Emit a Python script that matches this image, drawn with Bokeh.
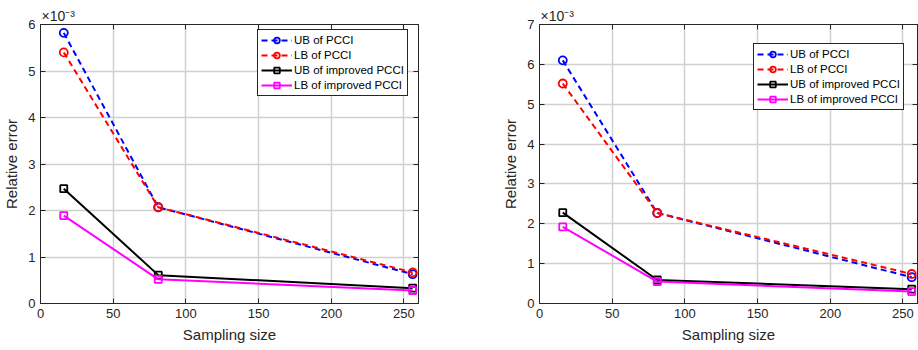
from bokeh.plotting import figure
from bokeh.layouts import row
from bokeh.models import LinearAxis, FixedTicker, Range1d, Title
from bokeh.embed import file_html
from bokeh.resources import INLINE

# ---- data (relative error in units of 1e-3) ----
sampling_size = [16, 81, 256]
x_ticks = [0, 50, 100, 150, 200, 250]

left_ub_pcci = [5.82, 2.07, 0.63]
left_lb_pcci = [5.40, 2.07, 0.67]
left_ub_imp = [2.47, 0.61, 0.33]
left_lb_imp = [1.89, 0.52, 0.28]
left_y_ticks = [0, 1, 2, 3, 4, 5, 6]

right_ub_pcci = [6.10, 2.27, 0.66]
right_lb_pcci = [5.52, 2.27, 0.74]
right_ub_imp = [2.28, 0.59, 0.36]
right_lb_imp = [1.92, 0.55, 0.30]
right_y_ticks = [0, 1, 2, 3, 4, 5, 6, 7]

labels = ["UB of PCCI", "LB of PCCI", "UB of improved PCCI", "LB of improved PCCI"]
x_label = "Sampling size"
y_label = "Relative error"
exponent_text = "×10⁻³"

FONT = "Liberation Sans"
TXT = "#262626"


def style_axis(ax, ticks, show_labels=True):
    ax.ticker = FixedTicker(ticks=ticks)
    ax.major_tick_in = 5
    ax.major_tick_out = 0
    ax.minor_tick_line_color = None
    ax.axis_line_color = TXT
    ax.major_tick_line_color = TXT
    ax.major_label_text_font = FONT
    if show_labels:
        ax.major_label_text_color = TXT
        ax.major_label_text_font_size = "13px"
        ax.major_label_standoff = 5
    else:
        ax.major_label_text_color = None
        ax.major_label_text_font_size = "1px"
        ax.major_label_standoff = 0
    ax.axis_label_text_font = FONT
    ax.axis_label_text_font_size = "15px"
    ax.axis_label_text_font_style = "normal"
    ax.axis_label_text_color = TXT
    ax.axis_label_standoff = 5


def make_panel(ub, lb, uimp, limp, y_ticks, bl, br, legend_loc):
    ymax = y_ticks[-1]
    p = figure(frame_width=378, frame_height=279,
               min_border_left=bl, min_border_right=br,
               min_border_top=24, min_border_bottom=47,
               x_range=Range1d(0, 260), y_range=Range1d(0, ymax),
               output_backend="svg", toolbar_location=None,
               background_fill_color="white", border_fill_color="white")
    p.outline_line_color = TXT
    p.outline_line_width = 1
    p.outline_line_alpha = 1

    style_axis(p.xaxis[0], x_ticks)
    style_axis(p.yaxis[0], y_ticks)
    p.xaxis.axis_label = x_label
    p.yaxis.axis_label = y_label

    top = LinearAxis()
    style_axis(top, x_ticks, show_labels=False)
    p.add_layout(top, "above")
    right = LinearAxis()
    style_axis(right, y_ticks, show_labels=False)
    p.add_layout(right, "right")

    p.add_layout(Title(text=exponent_text, align="left", offset=1,
                       standoff=1, text_font=FONT, text_font_size="14px",
                       text_font_style="normal", text_color=TXT), "above")

    p.xgrid.ticker = FixedTicker(ticks=x_ticks)
    p.ygrid.ticker = FixedTicker(ticks=y_ticks)
    p.grid.grid_line_color = "#d0d0d0"
    p.grid.grid_line_width = 1.5

    series = [
        (ub, "#0000ff", "6 4", "circle", 8),
        (lb, "#ff0000", "6 4", "circle", 8),
        (uimp, "#000000", "solid", "square", 7),
        (limp, "#ff00ff", "solid", "square", 7),
    ]
    for (vals, col, dash, mk, sz), lab in zip(series, labels):
        p.line(sampling_size, vals, line_color=col, line_width=2,
               line_dash=dash, legend_label=lab)
        p.scatter(sampling_size, vals, marker=mk, size=sz, line_color=col,
                  line_width=1.8, fill_color=None, legend_label=lab)

    lg = p.legend[0]
    lg.location = legend_loc
    lg.glyph_width = 31
    lg.glyph_height = 14
    lg.label_height = 14
    lg.spacing = 1
    lg.padding = 3
    lg.margin = 0
    lg.label_standoff = 2
    lg.border_line_color = TXT
    lg.border_line_width = 1
    lg.border_line_alpha = 1
    lg.background_fill_alpha = 1
    lg.label_text_font = FONT
    lg.label_text_font_size = "11.5px"
    lg.label_text_color = "#000000"
    return p


p1 = make_panel(left_ub_pcci, left_lb_pcci, left_ub_imp, left_lb_imp,
                left_y_ticks, 37, 44, (217, 207))
p2 = make_panel(right_ub_pcci, right_lb_pcci, right_ub_imp, right_lb_imp,
                right_y_ticks, 77, 4, (214, 193))

layout = row(p1, p2)
open("out.html", "w").write(file_html(layout, INLINE))
